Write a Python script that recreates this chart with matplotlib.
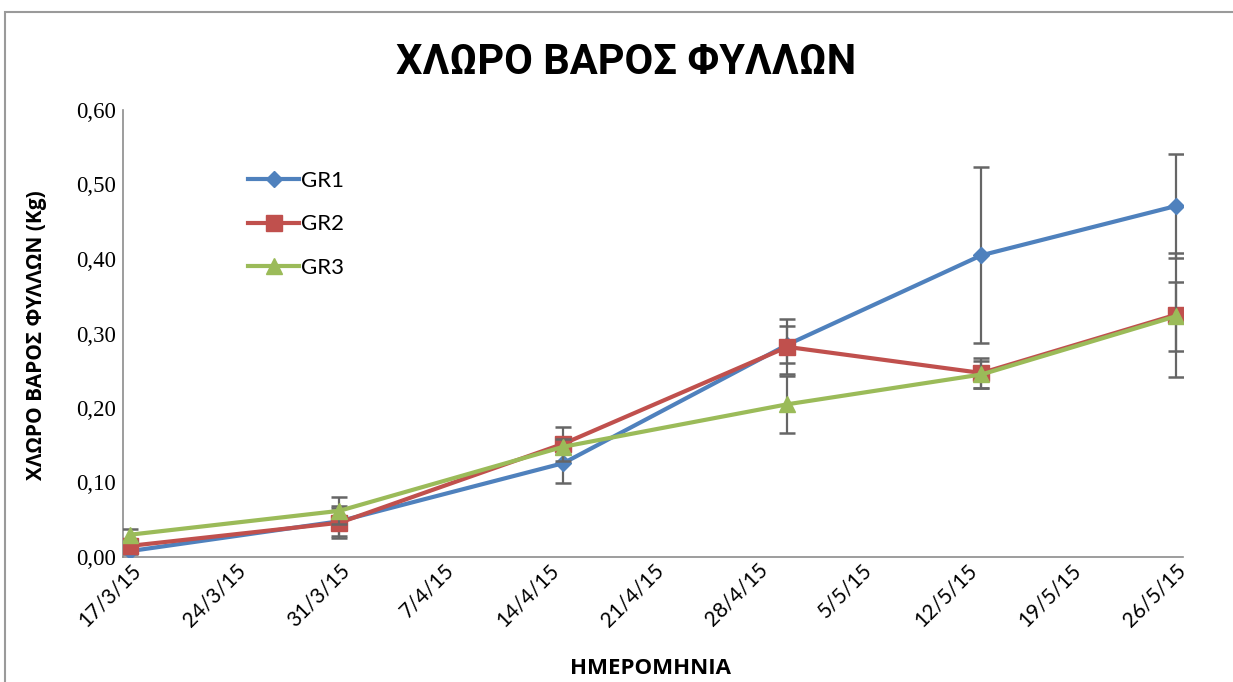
import datetime as dt
import matplotlib
matplotlib.use("Agg")
import matplotlib.pyplot as plt
from matplotlib.patches import Rectangle

# ---- data ----
dates = ["2015-03-17", "2015-03-31", "2015-04-15", "2015-04-30", "2015-05-13", "2015-05-26"]
gr1 = [0.008, 0.048, 0.126, 0.285, 0.405, 0.471]
gr1_err = [0.004, 0.020, 0.026, 0.025, 0.118, 0.070]
gr2 = [0.015, 0.046, 0.152, 0.282, 0.247, 0.325]
gr2_err = [0.006, 0.020, 0.023, 0.037, 0.020, 0.083]
gr3 = [0.030, 0.062, 0.148, 0.205, 0.245, 0.323]
gr3_err = [0.008, 0.018, 0.010, 0.038, 0.018, 0.046]
series_names = ["GR1", "GR2", "GR3"]
tick_dates = ["2015-03-17", "2015-03-24", "2015-03-31", "2015-04-07", "2015-04-14", "2015-04-21",
              "2015-04-28", "2015-05-05", "2015-05-12", "2015-05-19", "2015-05-26"]
tick_labels = ["17/3/15", "24/3/15", "31/3/15", "7/4/15", "14/4/15", "21/4/15",
               "28/4/15", "5/5/15", "12/5/15", "19/5/15", "26/5/15"]
y_ticks = [0.0, 0.1, 0.2, 0.3, 0.4, 0.5, 0.6]
y_tick_labels = ["0,00", "0,10", "0,20", "0,30", "0,40", "0,50", "0,60"]
title = "ΧΛΩΡΟ ΒΑΡΟΣ ΦΥΛΛΩΝ"
ylabel = "ΧΛΩΡΟ ΒΑΡΟΣ ΦΥΛΛΩΝ (Kg)"
xlabel = "ΗΜΕΡΟΜΗΝΙΑ"

x = [dt.datetime.strptime(d, "%Y-%m-%d") for d in dates]
xt = [dt.datetime.strptime(d, "%Y-%m-%d") for d in tick_dates]

W, H = 1233, 682
fig = plt.figure(figsize=(W / 100, H / 100), dpi=100)
fig.patch.set_facecolor("white")
ax = fig.add_axes([123 / W, 1 - 557 / H, (1183 - 123) / W, (557 - 110) / H])

# outer chart border
fig.patches.append(Rectangle((5 / W, -0.05), 1.2, 1 - 12 / H + 0.05, transform=fig.transFigure,
                             fill=False, edgecolor="#9a9a9a", linewidth=1.5, zorder=0))

colors = ["#4F81BD", "#C0504D", "#9BBB59"]
markers = ["D", "s", "^"]
msizes = [8, 11, 11]
vals = [gr1, gr2, gr3]
errs = [gr1_err, gr2_err, gr3_err]

handles = []
for i in range(3):
    ax.errorbar(x, vals[i], yerr=errs[i], fmt="none", ecolor="#666666", elinewidth=1.6,
                capsize=6, capthick=1.8, zorder=2 + i * 2)
    (h,) = ax.plot(x, vals[i], color=colors[i], linewidth=3, marker=markers[i], markersize=msizes[i],
                   markerfacecolor=colors[i], markeredgecolor=colors[i], label=series_names[i],
                   zorder=3 + i * 2)
    handles.append(h)

half = dt.timedelta(hours=12)
ax.set_xlim(x[0] - half, x[-1] + half)
ax.set_ylim(0, 0.6)
ax.set_yticks(y_ticks)
ax.set_yticklabels(y_tick_labels, family="Liberation Serif", fontsize=16.5)
ax.set_xticks(xt)
ax.set_xticklabels(tick_labels, rotation=45, ha="right", rotation_mode="anchor",
                   family="Lato", fontsize=15)
ax.tick_params(axis="both", length=0)
ax.tick_params(axis="x", pad=2)
ax.tick_params(axis="y", pad=5)

for s in ["top", "right"]:
    ax.spines[s].set_visible(False)
for s in ["left", "bottom"]:
    ax.spines[s].set_color("#8c8c8c")
    ax.spines[s].set_linewidth(1.2)

fig.text(626 / W, 1 - 62 / H, title, ha="center", va="center", fontsize=30, fontweight="bold",
         family=["Roboto", "DejaVu Sans"])
fig.text(37 / W, 1 - 335 / H, ylabel, ha="center", va="center", rotation=90, fontsize=15,
         fontweight="bold", family=["Open Sans", "DejaVu Sans"])
fig.text(650 / W, 1 - 668 / H, xlabel, ha="center", va="center", fontsize=16,
         fontweight="bold", family=["Open Sans", "DejaVu Sans"])

leg = ax.legend(handles=handles, loc="upper left", bbox_to_anchor=(105 / 1060, 1 - 41 / 447),
                frameon=False, handlelength=2.3, labelspacing=1.05,
                handletextpad=0.1, prop={"family": "Lato", "size": 16})

fig.savefig("out.png", dpi=100, facecolor="white")
